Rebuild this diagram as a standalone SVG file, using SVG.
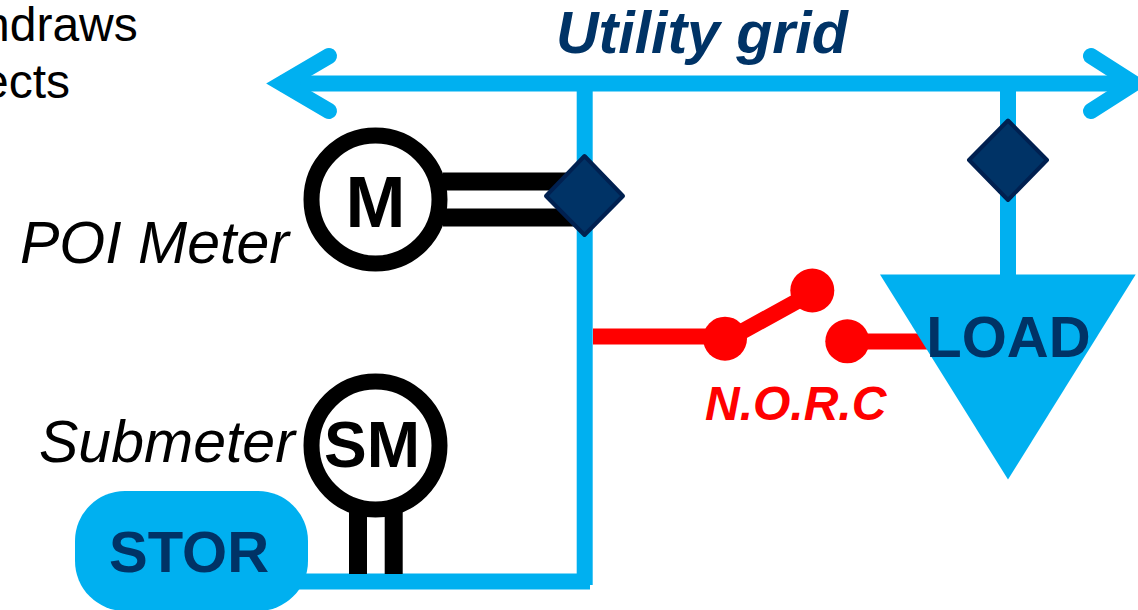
<svg xmlns="http://www.w3.org/2000/svg" width="1138" height="610" viewBox="0 0 1138 610">
<style>
text{font-family:"Liberation Sans",Arial,sans-serif}
.blk{fill:#000;font-size:48px}
.lbl{fill:#000;font-size:59px;font-style:italic}
.tag{font-weight:bold;font-size:58px;fill:#003366}
.bl{stroke:#00B0F0;stroke-width:16;fill:none}
.rd{stroke:#FF0000;stroke-width:16;fill:none}
.meter{fill:#fff;stroke:#000;stroke-width:16}
.dia{fill:#003366;stroke:#002050;stroke-width:4;stroke-linejoin:round}
.dot{fill:#FF0000}
</style>
<rect width="1138" height="610" fill="#fff"/>
<g id="note">
<text class="blk" x="-17" y="41">ndraws</text>
<text class="blk" x="-18" y="98">ects</text>
</g>
<g id="connectors">
<path class="bl" d="M280 83.5H1130"/>
<path class="bl" stroke-linecap="round" stroke-miterlimit="10" d="M329 56L282 83.5L329 111"/>
<path class="bl" stroke-linecap="round" stroke-miterlimit="10" d="M1091 56L1134 83.5L1091 111"/>
<path class="bl" d="M584.700 84V585"/>
<path class="bl" d="M298 581.500H590"/>
<path class="bl" d="M1008 84V280"/>
<path d="M443 181.500H578M443 217.500H578" fill="none" stroke="#000" stroke-width="18"/>
<path d="M358 505V574M393.700 505V574" fill="none" stroke="#000" stroke-width="18"/>
<path class="rd" d="M593 336.500H725M725 341L812 293"/>
<path class="rd" d="M847 341.500H930"/>
</g>
<g id="poi-meter">
<circle class="meter" cx="375.500" cy="199.500" r="64"/>
<text class="tag" style="fill:#000;font-size:72px" x="375.500" y="227" text-anchor="middle">M</text>
<text class="lbl" x="20" y="263">POI Meter</text>
</g>
<g id="submeter">
<circle class="meter" cx="375.500" cy="445.500" r="64"/>
<text class="tag" style="fill:#000;font-size:64px" x="372" y="467" text-anchor="middle">SM</text>
<text class="lbl" x="39" y="462">Submeter</text>
</g>
<g id="stor">
<rect x="75" y="491" width="233" height="120" rx="50" ry="50" fill="#00B0F0"/>
<text class="tag" x="189" y="572" text-anchor="middle">STOR</text>
</g>
<g id="poi-switch">
<polygon class="dia" points="584.500,156 623,196 584.500,235 546,196"/>
</g>
<g id="load-switch">
<polygon class="dia" points="1008,120.500 1047,160 1008,200 969,160"/>
</g>
<g id="norc">
<circle class="dot" cx="725" cy="338.700" r="22"/>
<circle class="dot" cx="812.300" cy="290.500" r="22"/>
<circle class="dot" cx="847.300" cy="341.300" r="22"/>
<text x="705" y="420" font-size="48" font-weight="bold" font-style="italic" fill="#FF0000">N.O.R.C</text>
</g>
<g id="load">
<polygon points="880,274.500 1135.700,274.500 1008,479.500" fill="#00B0F0"/>
<text class="tag" x="1008.500" y="357" text-anchor="middle">LOAD</text>
</g>
<g id="grid">
<text class="tag" style="font-style:italic;font-size:59px" x="556" y="53">Utility grid</text>
</g>
</svg>
